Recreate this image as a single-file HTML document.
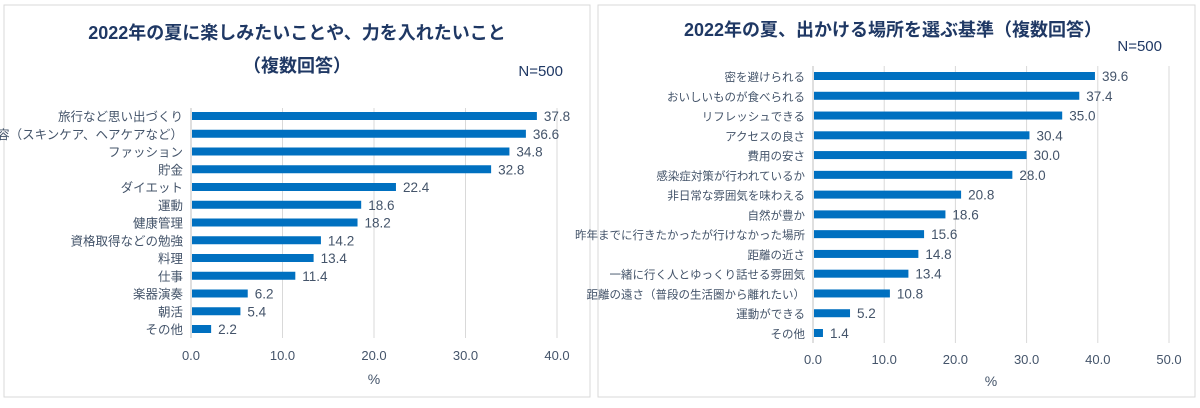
<!DOCTYPE html>
<html><head><meta charset="utf-8"><style>
body{margin:0;width:1200px;height:403px;background:#fff;overflow:hidden;font-family:"Liberation Sans","Noto Sans CJK JP",sans-serif;}
svg text{font-family:"Liberation Sans","Noto Sans CJK JP",sans-serif;}
</style></head><body>
<svg id="s" width="1200" height="403">
<rect x="4" y="5" width="586" height="392" fill="#fff" stroke="#d9d9d9"/>
<rect x="598" y="5" width="597" height="392" fill="#fff" stroke="#d9d9d9"/>
<text x="297" y="39" text-anchor="middle" font-size="18" font-weight="bold" fill="#1f3864">2022年の夏に楽しみたいことや、力を入れたいこと</text>
<text x="297" y="72" text-anchor="middle" font-size="18" font-weight="bold" fill="#1f3864">（複数回答）</text>
<text x="563" y="76" text-anchor="end" font-size="15" fill="#1f3864">N=500</text>
<text x="893" y="36" text-anchor="middle" font-size="18" font-weight="bold" fill="#1f3864">2022年の夏、出かける場所を選ぶ基準（複数回答）</text>
<text x="1162" y="51" text-anchor="end" font-size="15" fill="#1f3864">N=500</text>
<g id="L"></g><g id="R"></g>
</svg>
<script>
const leftCategories=["旅行など思い出づくり","美容（スキンケア、ヘアケアなど）","ファッション","貯金","ダイエット","運動","健康管理","資格取得などの勉強","料理","仕事","楽器演奏","朝活","その他"];
const leftValues=[37.8,36.6,34.8,32.8,22.4,18.6,18.2,14.2,13.4,11.4,6.2,5.4,2.2];
const leftTicks=[0,10,20,30,40];
const rightCategories=["密を避けられる","おいしいものが食べられる","リフレッシュできる","アクセスの良さ","費用の安さ","感染症対策が行われているか","非日常な雰囲気を味わえる","自然が豊か","昨年までに行きたかったが行けなかった場所","距離の近さ","一緒に行く人とゆっくり話せる雰囲気","距離の遠さ（普段の生活圏から離れたい）","運動ができる","その他"];
const rightValues=[39.6,37.4,35.0,30.4,30.0,28.0,20.8,18.6,15.6,14.8,13.4,10.8,5.2,1.4];
const rightTicks=[0,10,20,30,40,50];
const NS="http://www.w3.org/2000/svg";
function mk(g,tag,a,txt){const e=document.createElementNS(NS,tag);for(const k in a)e.setAttribute(k,a[k]);if(txt!==undefined)e.textContent=txt;g.appendChild(e);return e;}
function draw(gid,cats,vals,ticks,o){
 const g=document.getElementById(gid);
 const max=ticks[ticks.length-1];
 const xs=v=>o.x0+(o.x1-o.x0)*v/max;
 const ys=i=>o.y0+(o.y1-o.y0)*i/(cats.length-1);
 ticks.forEach(t=>{
  const l=mk(g,'line',{x1:xs(t),x2:xs(t),y1:o.gt,y2:o.gb,stroke:t===0?'#bfbfbf':'#d9d9d9','stroke-width':1});
  
  
  const tx=mk(g,'text',{x:xs(t),y:o.ty,'text-anchor':'middle','font-size':13,fill:'#44546a'},t.toFixed(1));
  
  
 });
 const at=mk(g,'text',{x:(o.x0+o.x1)/2,y:o.py,'text-anchor':'middle','font-size':14,fill:'#44546a'},'%');
 
 
 cats.forEach((c,i)=>{
  const y=ys(i);
  const r=mk(g,'rect',{x:o.x0+1,y:y-4,width:Math.max(0,xs(vals[i])-o.x0-1),height:8,fill:'#0070c0'});
  
  
  const lb=mk(g,'text',{x:o.x0-8,y:y+5,'text-anchor':'end','font-size':o.fs,fill:'#44546a'},c);
  
  
  const v=mk(g,'text',{x:xs(vals[i])+7,y:y+5,'font-size':13.5,fill:'#44546a'},vals[i].toFixed(1));
  
  
 });
}
draw('L',leftCategories,leftValues,leftTicks,{x0:191,x1:557,y0:116,y1:329,gt:108,gb:338,ty:360,py:384,fs:12.5});
draw('R',rightCategories,rightValues,rightTicks,{x0:813,x1:1169,y0:76,y1:333,gt:66,gb:343,ty:364,py:386,fs:11.5});
</script>
</body></html>
